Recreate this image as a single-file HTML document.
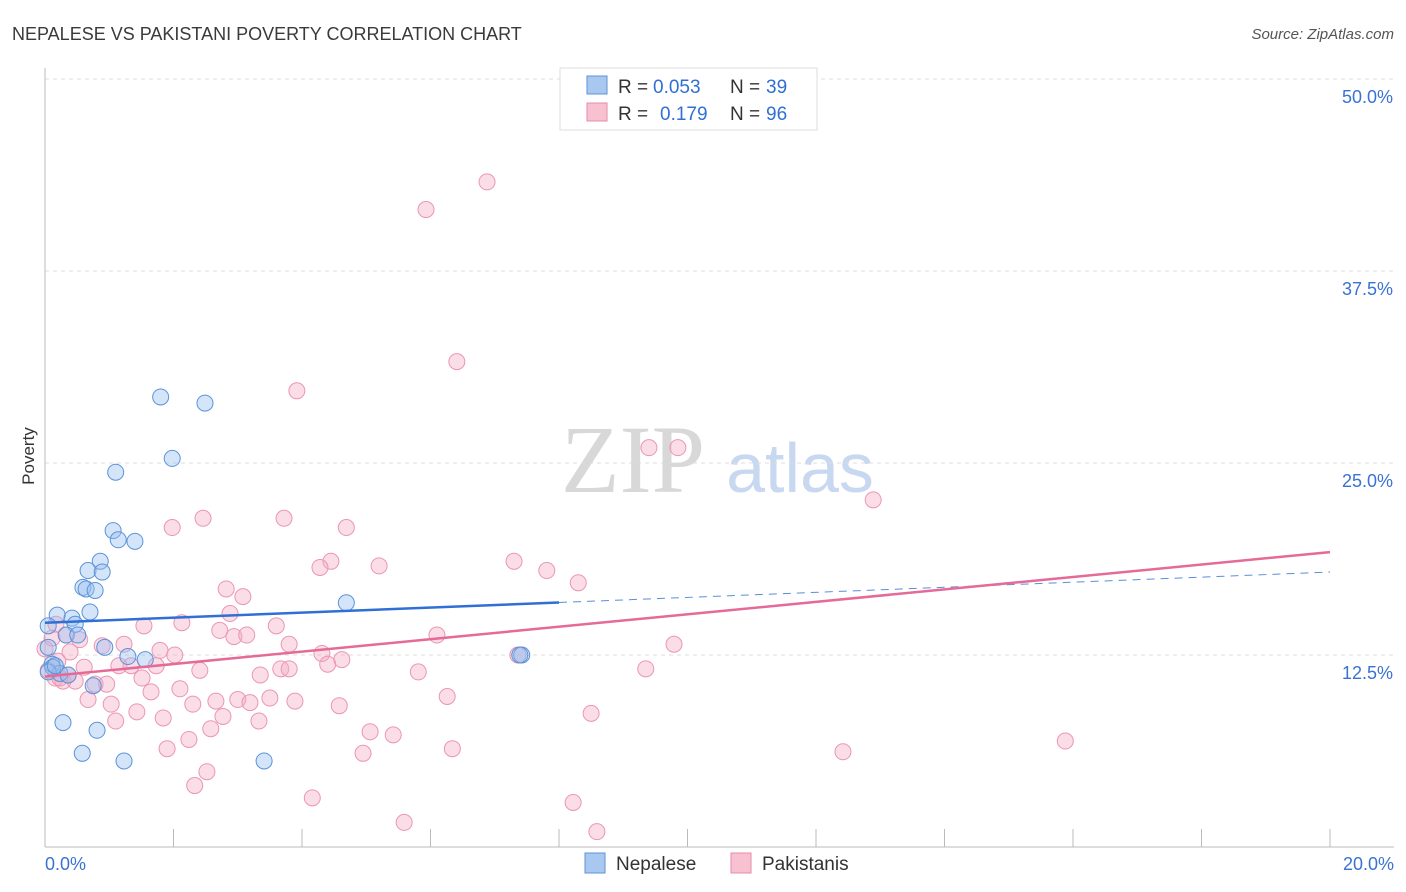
<!DOCTYPE html>
<html><head><meta charset="utf-8"><style>
body{margin:0;background:#fff;font-family:"Liberation Sans",sans-serif}
svg{display:block}
</style></head><body>
<svg id="c" width="1406" height="892" xmlns="http://www.w3.org/2000/svg">
<text x="12" y="40" font-size="18" fill="#3a3a3a">NEPALESE VS PAKISTANI POVERTY CORRELATION CHART</text>
<text x="1394" y="39" font-size="15" fill="#555" font-style="italic" text-anchor="end">Source: ZipAtlas.com</text>
<text x="633" y="492" font-size="96" fill="#d8d8d8" font-family="Liberation Serif" text-anchor="middle">ZIP</text>
<text x="800" y="492" font-size="70" fill="#c8d8f0" text-anchor="middle">atlas</text>
<text x="34" y="456" font-size="17" fill="#333" transform="rotate(-90 34 456)" text-anchor="middle">Poverty</text>
<g id="grid"></g><g id="pts"></g><g id="lines"></g>
<g>
<rect x="560" y="68" width="257" height="62" fill="#fff" stroke="#ddd"/>
<rect x="587" y="76" width="20" height="18" fill="#a9c8ef" stroke="#5b93d9"/>
<rect x="587" y="103" width="20" height="18" fill="#f7c1d1" stroke="#e88aa8"/>
<text x="618" y="93" font-size="19" fill="#333">R =</text>
<text x="653" y="93" font-size="19" fill="#2f6fd6">0.053</text>
<text x="730" y="93" font-size="19" fill="#333">N =</text>
<text x="766" y="93" font-size="19" fill="#2f6fd6">39</text>
<text x="618" y="120" font-size="19" fill="#333">R =</text>
<text x="660" y="120" font-size="19" fill="#2f6fd6">0.179</text>
<text x="730" y="120" font-size="19" fill="#333">N =</text>
<text x="766" y="120" font-size="19" fill="#2f6fd6">96</text>
</g>
<g>
<rect x="585" y="853" width="20" height="20" fill="#a9c8ef" stroke="#5b93d9"/>
<text x="616" y="870" font-size="19" fill="#333">Nepalese</text>
<rect x="731" y="853" width="20" height="20" fill="#f7c1d1" stroke="#e88aa8"/>
<text x="762" y="870" font-size="19" fill="#333">Pakistanis</text>
</g>
</svg>
<script>
const xTicks=[0,2,4,6,8,10,12,14,16,18,20];
const yTicks=[12.5,25,37.5,50];
const nepX=[1.8,2.49,1.98,1.1,1.06,1.14,1.4,0.86,0.67,0.89,0.59,0.64,0.78,0.19,0.7,0.42,0.47,0.05,0.33,0.51,0.93,0.05,1.29,1.56,0.11,0.12,0.23,0.36,0.05,0.75,4.69,7.42,7.39,0.28,0.81,0.58,1.23,3.41,0.16];
const nepY=[29.3,28.9,25.3,24.4,20.6,20.0,19.9,18.6,18.0,17.9,16.9,16.8,16.7,15.1,15.3,14.9,14.5,14.4,13.8,13.8,13.0,13.0,12.4,12.2,11.9,11.7,11.3,11.2,11.4,10.5,15.9,12.5,12.5,8.1,7.6,6.1,5.6,5.6,11.8];
const pakX=[6.88,5.93,6.41,3.92,9.4,9.85,12.89,1.98,2.46,3.72,4.69,4.45,4.28,5.2,7.3,7.81,8.3,2.82,3.08,2.88,1.54,2.13,2.72,3.6,2.94,3.14,3.8,6.1,9.79,0.17,0.33,0.54,0.89,1.23,1.79,2.02,4.31,4.62,4.4,3.35,3.67,3.8,2.41,1.15,1.34,1.73,0.61,0.36,0.28,0.47,0.78,0.96,1.51,5.81,7.36,9.35,2.1,1.65,6.26,0.67,1.03,2.3,2.66,3.0,3.19,3.5,3.89,4.58,1.43,1.84,2.77,1.1,3.33,2.58,5.06,5.42,8.5,2.24,1.9,4.95,6.34,12.42,15.88,2.52,2.33,4.16,8.22,5.59,8.59,0.16,0.23,0.05,0.11,0.2,0.39,0.0];
const pakY=[43.3,41.5,31.6,29.7,26.0,26.0,22.6,20.8,21.4,21.4,20.8,18.6,18.2,18.3,18.6,18.0,17.2,16.8,16.3,15.2,14.4,14.6,14.1,14.4,13.7,13.8,13.2,13.8,13.2,14.5,13.8,13.5,13.1,13.2,12.8,12.5,12.6,12.2,11.9,11.2,11.6,11.6,11.5,11.8,11.8,11.8,11.7,11.2,10.8,10.8,10.6,10.6,11.0,11.4,12.5,11.6,10.3,10.1,9.8,9.6,9.3,9.3,9.5,9.6,9.4,9.7,9.5,9.2,8.8,8.4,8.5,8.2,8.2,7.7,7.5,7.3,8.7,7.0,6.4,6.1,6.4,6.2,6.9,4.9,4.0,3.2,2.9,1.6,1.0,11.0,11.0,11.5,13.6,12.1,12.7,12.9];
const nepFit=[14.6,17.9];
const pakFit=[11.1,19.2];
const X=v=>45+v/20*1285, Y=v=>847-v/12.5*192;
const NS='http://www.w3.org/2000/svg';
function mk(t,a,p){const e=document.createElementNS(NS,t);for(const k in a)e.setAttribute(k,a[k]);p.appendChild(e);return e;}
const g=document.getElementById('grid');
yTicks.forEach(v=>{const l=mk('line',{x1:45,x2:1394,y1:Y(v),y2:Y(v),stroke:'#ddd','stroke-dasharray':'4,4'},g);


const t=mk('text',{x:1393,y:Y(v)+24,'font-size':18,fill:'#3a72d4','text-anchor':'end'},g);t.textContent=v.toFixed(1)+'%';

});
mk('line',{x1:45,x2:45,y1:68,y2:847,stroke:'#bbb'},g);
mk('line',{x1:45,x2:1394,y1:847,y2:847,stroke:'#bbb'},g);
xTicks.forEach(v=>{const l=mk('line',{x1:X(v),x2:X(v),y1:829,y2:847,stroke:'#bbb'},g);

});
[[0,'start',45],[20,'end',1394]].forEach(([v,a,x])=>{const t=mk('text',{x:x,y:870,'font-size':18,fill:'#3a72d4','text-anchor':a},g);t.textContent=v.toFixed(1)+'%';

});
const P=document.getElementById('pts');
pakX.forEach((x,i)=>{const c=mk('circle',{cx:X(x),cy:Y(pakY[i]),r:8,fill:'rgba(244,170,195,0.4)',stroke:'#eb96b2','stroke-width':1},P);

});
nepX.forEach((x,i)=>{const c=mk('circle',{cx:X(x),cy:Y(nepY[i]),r:8,fill:'rgba(150,190,240,0.4)',stroke:'#5b93d9','stroke-width':1},P);

});
const L=document.getElementById('lines');
const n0=nepFit[0],n20=nepFit[1],p0=pakFit[0],p20=pakFit[1];
const l1=mk('line',{x1:X(0),y1:Y(n0),x2:X(8),y2:Y(n0+(n20-n0)*0.4),stroke:'#2f6fd6','stroke-width':2.5},L);


const l2=mk('line',{x1:X(8),y1:Y(n0+(n20-n0)*0.4),x2:X(20),y2:Y(n20),stroke:'#5b8ed9','stroke-width':1,'stroke-dasharray':'8,6'},L);


const l3=mk('line',{x1:X(0),y1:Y(p0),x2:X(20),y2:Y(p20),stroke:'#e56a98','stroke-width':2.5},L);


</script>
</body></html>
